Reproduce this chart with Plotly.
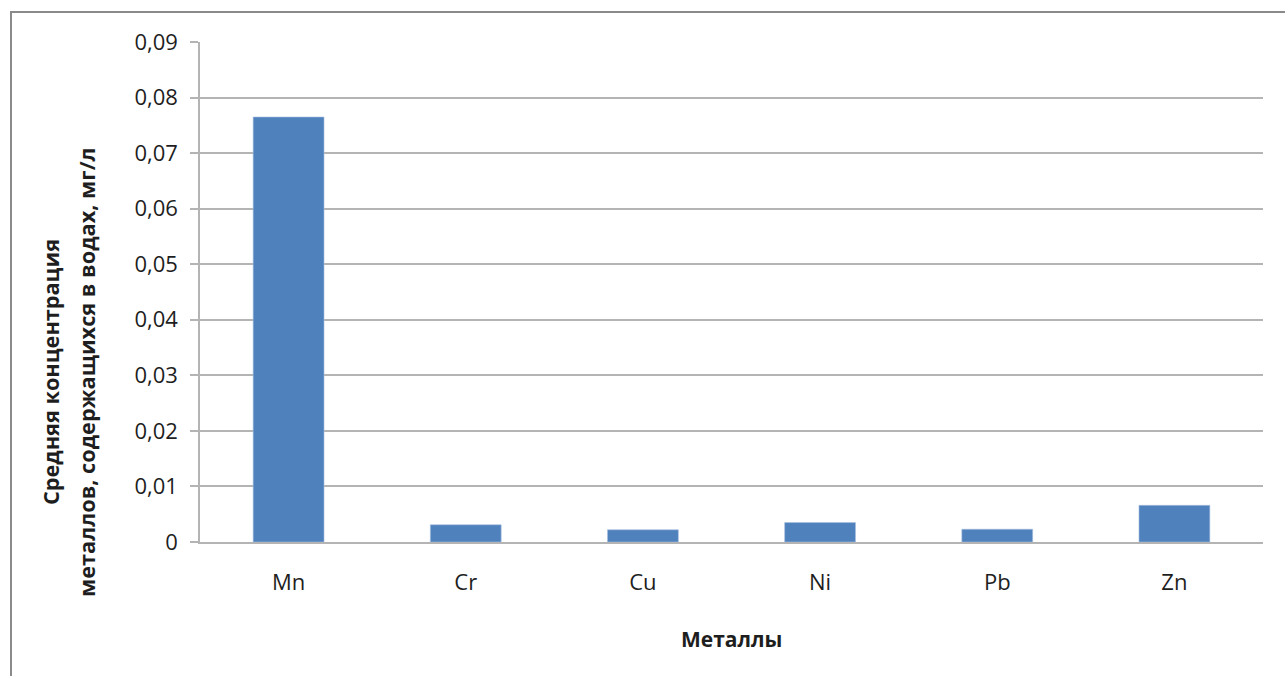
import plotly.graph_objects as go

# Average metal concentrations in water, mg/l
metals = ["Mn", "Cr", "Cu", "Ni", "Pb", "Zn"]
concentration = [0.0765, 0.0031, 0.0022, 0.0035, 0.0023, 0.0066]

y_tick_values = [0, 0.01, 0.02, 0.03, 0.04, 0.05, 0.06, 0.07, 0.08, 0.09]
y_tick_labels = ["0", "0,01", "0,02", "0,03", "0,04", "0,05", "0,06", "0,07", "0,08", "0,09"]

x_title = "Металлы"
y_title_lines = ["Средняя концентрация", "металлов, содержащихся в водах, мг/л"]

W, H = 1285, 676
L, R, T, B = 200, 22, 42, 134
plot_w = W - L - R
plot_h = H - T - B

font_family = "Open Sans, DejaVu Sans, sans-serif"
text_color = "#1e1e1e"
grid_color = "#b4b4b4"

fig = go.Figure(
    go.Bar(
        x=metals,
        y=concentration,
        marker=dict(color="#4f81bd", line=dict(color="#a9c0e0", width=0.6)),
        hoverinfo="x+y",
    )
)


def px_x(px):
    return (px - L) / plot_w


def px_y(py):
    return 1 - (py - T) / plot_h


title_font = dict(size=21.7, color=text_color, family=font_family, weight="bold")

# vertical axis title: two rotated lines, placed separately for wider line spacing
y_title_annotations = [
    dict(
        text=line,
        xref="paper", yref="paper",
        x=px_x(cx), y=px_y(372),
        xanchor="center", yanchor="middle",
        textangle=-90,
        showarrow=False,
        font=title_font,
    )
    for line, cx in zip(y_title_lines, [50, 86])
]

fig.update_layout(
    width=W,
    height=H,
    margin=dict(l=L, r=R, t=T, b=B),
    paper_bgcolor="white",
    plot_bgcolor="white",
    bargap=0.6,
    showlegend=False,
    font=dict(family=font_family, size=22, color=text_color),
    xaxis=dict(
        showgrid=False,
        showline=True,
        linecolor=grid_color,
        linewidth=2,
        ticks="",
        tickfont=dict(size=22, color=text_color),
        ticklabelstandoff=20,
    ),
    yaxis=dict(
        range=[0, 0.09],
        tickvals=y_tick_values,
        ticktext=y_tick_labels,
        showgrid=True,
        gridcolor=grid_color,
        gridwidth=1.5,
        showline=True,
        linecolor=grid_color,
        linewidth=1.5,
        ticks="outside",
        ticklen=8,
        tickcolor=grid_color,
        tickwidth=1.5,
        zeroline=False,
        tickfont=dict(size=22, color=text_color),
        ticklabelstandoff=8,
    ),
    annotations=[
        dict(
            text=x_title,
            xref="paper", yref="paper",
            x=0.5, y=px_y(639),
            xanchor="center", yanchor="middle",
            showarrow=False,
            font=dict(size=21, color=text_color, family=font_family, weight="bold"),
        ),
    ] + y_title_annotations,
    shapes=[
        # outer chart frame (left and top edges)
        dict(
            type="path",
            xref="paper", yref="paper",
            path=f"M {px_x(11)} {px_y(H + 10)} L {px_x(11)} {px_y(12)} L {px_x(W + 10)} {px_y(12)}",
            line=dict(color="#8a8a8a", width=2),
            layer="above",
        ),
    ],
)

fig.write_html("out.html")
